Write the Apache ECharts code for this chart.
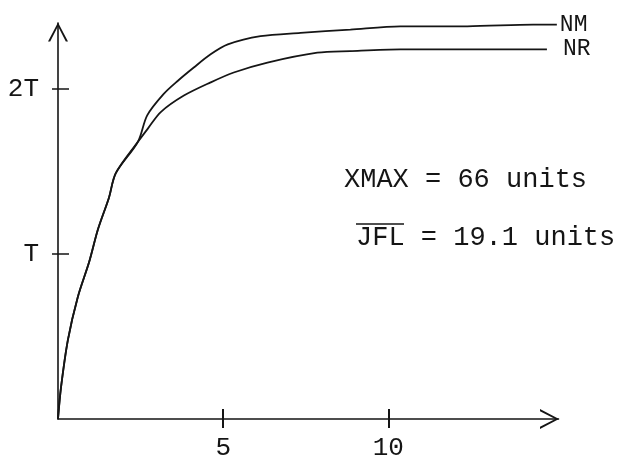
<!DOCTYPE html>
<html>
<head>
<meta charset="utf-8">
<script src="https://cdn.jsdelivr.net/npm/echarts@6/dist/echarts.min.js"></script>
<style>
  html, body { margin: 0; padding: 0; background: #fff; }
  #chart { width: 628px; height: 462px; }
</style>
</head>
<body>
<div id="chart"></div>
<script>
// Growth curves of NM and NR, in units of T, against x.
const nmX = [0, 0.09, 0.30, 0.60, 0.94, 1.21, 1.54, 1.75, 2.42, 2.70, 3.20, 3.63, 4.11, 4.62, 5.14, 6.13, 7.34, 8.85, 10.36, 12.39, 14.38, 15.10];
const nmY = [0, 0.19, 0.48, 0.74, 0.95, 1.15, 1.34, 1.49, 1.68, 1.84, 1.97, 2.05, 2.13, 2.21, 2.27, 2.32, 2.34, 2.36, 2.38, 2.38, 2.39, 2.39];
const nrX = [0, 0.09, 0.30, 0.60, 0.94, 1.21, 1.54, 1.75, 2.42, 2.72, 3.11, 3.81, 4.62, 5.32, 6.34, 7.85, 8.85, 10.36, 12.39, 14.80];
const nrY = [0, 0.19, 0.48, 0.74, 0.95, 1.15, 1.34, 1.49, 1.68, 1.76, 1.86, 1.96, 2.04, 2.10, 2.16, 2.22, 2.23, 2.24, 2.24, 2.24];

const xTickValues = [5, 10];
const yTickValues = [1, 2];
const yTickLabels = ['T', '2T'];

const xMax = 15.15;
const yMax = 2.4;

const ink = '#151515';
const mono = '"Liberation Mono", "DejaVu Sans Mono", monospace';

const zip = (xs, ys) => xs.map((x, i) => [x, ys[i]]);

// open chevron used as the arrow head on both axes
const chevron = 'path://M10,0 L20,19 L17.8,19 L10,3.8 L2.2,19 L0,19 Z';

const chart = echarts.init(document.getElementById('chart'), null, { renderer: 'canvas' });

const baseX = {
  type: 'value', min: 0, max: xMax, splitLine: { show: false }
};
const baseY = {
  type: 'value', min: 0, max: yMax, splitLine: { show: false }
};

const curveStyle = {
  type: 'line', xAxisIndex: 0, yAxisIndex: 0,
  showSymbol: false, smooth: 0.3, clip: false,
  lineStyle: { color: ink, width: 1.8 }
};

chart.setOption({
  animation: false,
  backgroundColor: '#ffffff',
  grid: { left: 58, right: 69.5, top: 23, bottom: 43, containLabel: false },
  xAxis: [
    Object.assign({}, baseX, {
      position: 'bottom',
      axisLine: {
        show: true, symbol: ['none', chevron], symbolSize: [22, 19], symbolOffset: [0, -9],
        lineStyle: { color: ink, width: 1.6 }
      },
      axisTick: { show: true, inside: false, length: 9, customValues: xTickValues, lineStyle: { color: ink, width: 2 } },
      axisLabel: {
        show: true, customValues: xTickValues, margin: 16,
        color: ink, fontFamily: mono, fontSize: 26
      }
    }),
    Object.assign({}, baseX, {
      position: 'bottom',
      axisLine: { show: false },
      axisTick: { show: true, inside: true, length: 10, customValues: xTickValues, lineStyle: { color: ink, width: 2 } },
      axisLabel: { show: false }
    })
  ],
  yAxis: [
    Object.assign({}, baseY, {
      position: 'left',
      axisLine: {
        show: true, symbol: ['none', chevron], symbolSize: [20, 19], symbolOffset: [0, -9],
        lineStyle: { color: ink, width: 1.6 }
      },
      axisTick: { show: true, inside: false, length: 6, customValues: yTickValues, lineStyle: { color: ink, width: 1.5 } },
      axisLabel: {
        show: true, customValues: yTickValues, margin: 19,
        color: ink, fontFamily: mono, fontSize: 26,
        formatter: v => yTickLabels[yTickValues.indexOf(v)]
      }
    }),
    Object.assign({}, baseY, {
      position: 'left',
      axisLine: { show: false },
      axisTick: { show: true, inside: true, length: 11, customValues: yTickValues, lineStyle: { color: ink, width: 1.5 } },
      axisLabel: { show: false }
    })
  ],
  series: [
    Object.assign({}, curveStyle, {
      name: 'NM', data: zip(nmX, nmY),
      endLabel: { show: true, formatter: '{a}', distance: 3, color: ink, fontFamily: mono, fontSize: 23 }
    }),
    Object.assign({}, curveStyle, {
      name: 'NR', data: zip(nrX, nrY),
      endLabel: { show: true, formatter: '{a}', distance: 16, color: ink, fontFamily: mono, fontSize: 23 }
    })
  ],
  graphic: [
    {
      type: 'text', left: 344, top: 166,
      style: { text: 'XMAX = 66 units', font: '27px ' + mono, fill: ink }
    },
    {
      type: 'text', left: 356, top: 224,
      style: { text: 'JFL = 19.1 units', font: '27px ' + mono, fill: ink }
    },
    {
      // overline above JFL
      type: 'line', shape: { x1: 356, y1: 224, x2: 404, y2: 224 },
      style: { stroke: ink, lineWidth: 1.4 }
    }
  ]
});
</script>
</body>
</html>
